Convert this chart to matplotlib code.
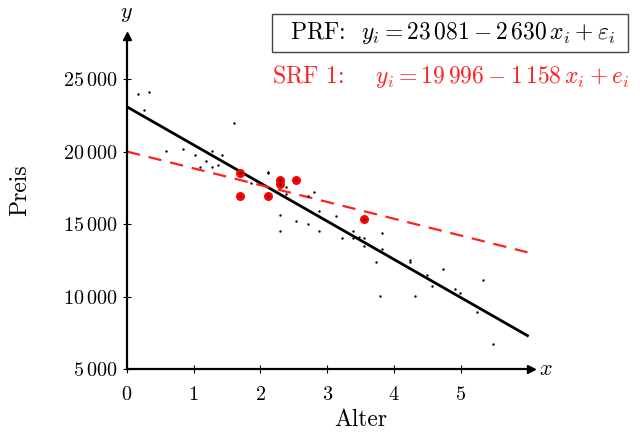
import matplotlib
matplotlib.use('agg')
import matplotlib.pyplot as plt
import matplotlib.ticker
import matplotlib.patches as mpatches
import numpy as np

plt.rcParams['mathtext.fontset'] = 'cm'
plt.rcParams['font.family'] = 'serif'
plt.rcParams['font.serif'] = ['cmr10', 'DejaVu Serif']
plt.rcParams['axes.unicode_minus'] = False

# sample points (Alter, Preis)
alter = [0.17, 0.33, 0.25, 1.60, 0.58, 0.84, 1.02, 1.18, 1.09, 1.27, 1.27, 1.36,
         1.42, 2.11, 2.11, 1.86, 2.38, 2.38, 2.29, 2.29, 2.53, 2.71, 2.80, 2.87,
         2.71, 2.87, 3.13, 3.22, 3.38, 3.38, 3.47, 3.55, 3.55, 3.82, 3.82, 3.73,
         3.79, 4.24, 4.24, 4.31, 4.49, 4.57, 4.73, 4.91, 4.99, 5.25, 5.33, 5.49]
preis = [23970, 24100, 22860, 21970, 20030, 20170, 19760, 19350, 18930, 20030, 18930, 19070,
         19760, 18590, 18520, 17830, 17550, 17070, 15620, 14520, 15210, 16930, 17210, 15900,
         15000, 14520, 15550, 14030, 14520, 14030, 14100, 14030, 13480, 14380, 13280, 12380,
         10030, 12520, 12380, 10030, 11480, 10720, 11900, 10520, 10240, 8930, 11140, 6720]

# highlighted sample (SRF 1)
sample_alter = [1.69, 1.69, 2.11, 2.29, 2.29, 2.53, 3.55]
sample_preis = [18520, 16930, 16930, 18030, 17760, 18030, 15350]

prf_a, prf_b = 23081, -2630
srf_a, srf_b = 19996, -1158

fig = plt.figure(figsize=(6.4, 4.32), dpi=100)
ax = fig.add_axes([0.1984, 0.1458, 0.631, 0.772])

ax.scatter(sample_alter, sample_preis, s=42, color='#ff0000', zorder=3, linewidths=0)
ax.scatter(alter + sample_alter, preis + sample_preis, s=3, color='black', zorder=4, linewidths=0)

xs = np.array([0, 6])
ax.plot(xs, prf_a + prf_b * xs, color='black', lw=2, zorder=2)
ax.plot(xs, srf_a + srf_b * xs, color='#ff2020', lw=1.6, dashes=(6, 4), zorder=2)

ax.set_xlim(0, 6.05)
ax.set_ylim(5000, 28000)
for s in ['top', 'right']:
    ax.spines[s].set_visible(False)
for s in ['left', 'bottom']:
    ax.spines[s].set_linewidth(1.6)

ax.set_xticks([0, 1, 2, 3, 4, 5])
ax.set_yticks([5000, 10000, 15000, 20000, 25000])
ax.xaxis.set_major_formatter(matplotlib.ticker.FuncFormatter(lambda v, p: r'$%d$' % v))
ax.yaxis.set_major_formatter(matplotlib.ticker.FuncFormatter(
    lambda v, p: r'$%d\,%03d$' % (int(v) // 1000, int(v) % 1000)))
ax.tick_params(direction='inout', length=6, width=0.8, labelsize=14.5, pad=4)
ax.tick_params(axis='x', pad=9)

ax.set_xlabel('Alter', fontsize=17, va='center', ha='center')
ax.xaxis.set_label_coords(0.579, -0.153)
ax.set_ylabel('Preis', fontsize=17, va='center', ha='center')
ax.yaxis.set_label_coords(-0.265, 0.537)

# arrow heads on the axes
ax.plot(1, 5000, '>', color='black', ms=6, transform=ax.get_yaxis_transform(), clip_on=False)
ax.plot(0, 1, '^', color='black', ms=6, transform=ax.get_xaxis_transform(), clip_on=False)
fig.text(0.853, 0.146, r'$x$', fontsize=16, va='center', ha='center')
fig.text(0.197, 0.968, r'$y$', fontsize=16, va='center', ha='center')

fig.patches.append(mpatches.Rectangle((0.425, 0.88), 0.556, 0.088, transform=fig.transFigure,
                                      facecolor='white', edgecolor='#444444', lw=1.0))
fig.text(0.453, 0.924, r'PRF:  $y_i = 23\,081 - 2\,630\,x_i + \varepsilon_i$', fontsize=17,
         va='center', ha='left')
fig.text(0.425, 0.822, r'SRF 1:    $y_i = 19\,996 - 1\,158\,x_i + e_i$', fontsize=17,
         color='#ff2020', va='center', ha='left')

fig.savefig('out.png', dpi=100)
